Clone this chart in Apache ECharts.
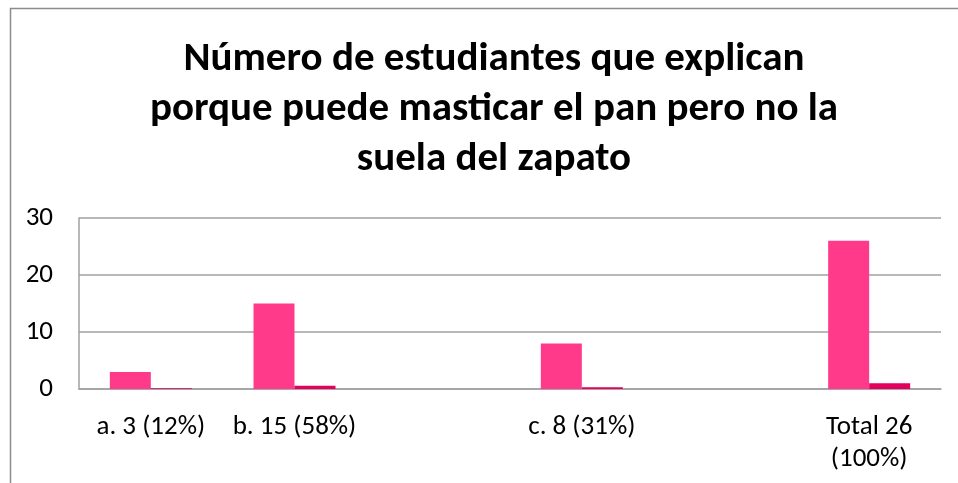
<!DOCTYPE html>
<html>
<head>
<meta charset="utf-8">
<script src="https://cdn.jsdelivr.net/npm/echarts@6/dist/echarts.min.js"></script>
<style>
html, body { margin: 0; padding: 0; background: #fff; }
#chart { width: 958px; height: 483px; }
</style>
</head>
<body>
<div id="chart"></div>
<script>
// data
var categories = ['a. 3 (12%)', 'b. 15 (58%)', '', 'c. 8 (31%)', '', 'Total 26\n(100%)'];
var counts = [3, 15, null, 8, null, 26];
var shares = [0.12, 0.58, null, 0.31, null, 1];
var yTicks = [0, 10, 20, 30];

var FONT = 'Carlito, Calibri, "Open Sans", sans-serif';
var chart = echarts.init(document.getElementById('chart'));

chart.setOption({
	animation: false,
	title: {
		text: 'Número de estudiantes que explican\nporque puede masticar el pan pero no la\nsuela del zapato',
		left: 489,
		textAlign: 'center',
		top: 30,
		textStyle: {
			fontFamily: FONT,
			fontWeight: 'bold',
			fontSize: 41,
			lineHeight: 50,
			color: '#000'
		}
	},
	graphic: [{
		type: 'rect',
		shape: { x: 10.5, y: 8.5, width: 1000, height: 1000 },
		style: { fill: 'none', stroke: '#8c8c8c', lineWidth: 1.5 },
		silent: true
	}],
	grid: {
		left: 79,
		right: 17,
		top: 218,
		bottom: 94
	},
	xAxis: {
		type: 'category',
		data: categories,
		axisLine: { show: true, lineStyle: { color: '#a0a0a0', width: 1.5 } },
		axisTick: { show: false },
		axisLabel: {
			interval: 0,
			margin: 22,
			fontFamily: FONT,
			fontSize: 27,
			lineHeight: 32,
			color: '#000'
		}
	},
	yAxis: {
		type: 'value',
		min: yTicks[0],
		max: yTicks[yTicks.length - 1],
		interval: 10,
		axisLine: { show: true, lineStyle: { color: '#a0a0a0', width: 1.5 } },
		axisTick: { show: false },
		axisLabel: {
			margin: 26,
			fontFamily: FONT,
			fontSize: 27,
			color: '#000'
		},
		splitLine: { show: true, lineStyle: { color: '#a0a0a0', width: 1.5 } }
	},
	series: [{
		type: 'bar',
		data: counts,
		barWidth: 41,
		barGap: '0%',
		itemStyle: { color: '#FF3A8A' }
	}, {
		type: 'bar',
		data: shares,
		barWidth: 41,
		itemStyle: { color: '#E4005F' }
	}]
});
</script>
</body>
</html>
